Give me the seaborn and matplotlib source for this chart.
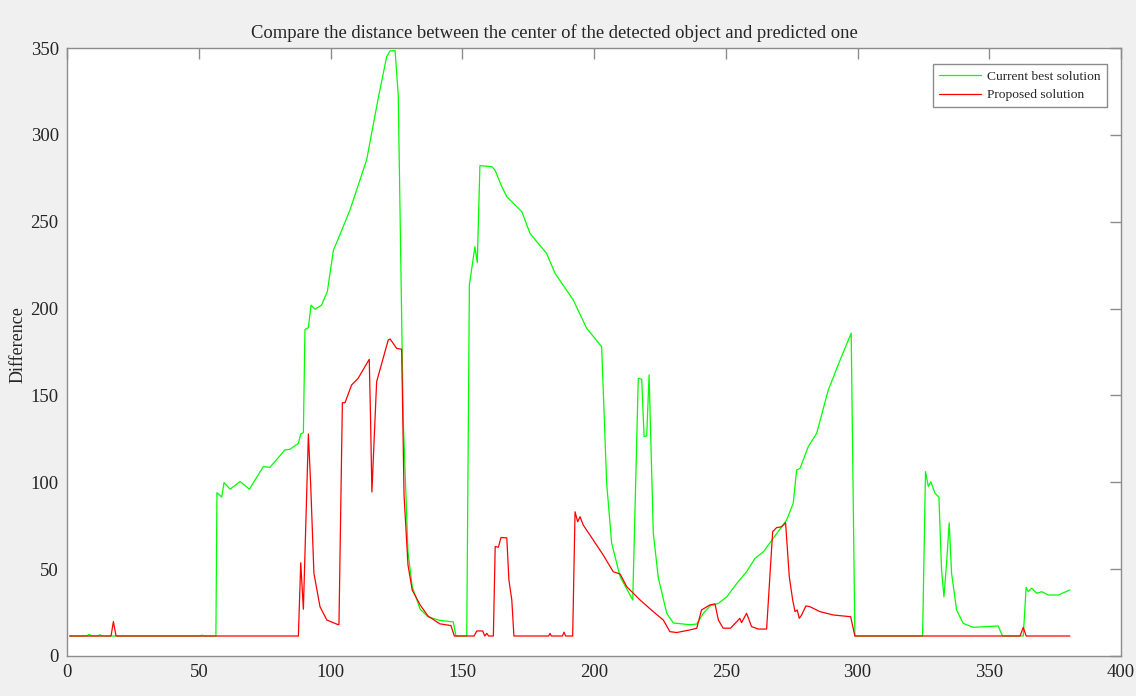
import pandas as pd
import matplotlib
matplotlib.use("Agg")
import matplotlib.pyplot as plt
import seaborn as sns

# values (frame index vs. distance)
green_x = [1, 7.5, 8.4, 9.3, 11.7, 12.5, 13.3, 50.5, 51.3, 52, 56.5, 56.9, 58.7, 59.6, 61.9,
           65.7, 69.2, 74.5, 77, 82.7, 84.6, 87.8, 88.7, 89.7, 90.3, 91.6, 92.6, 94.1, 96.6,
           98.8, 101.1, 103, 107.4, 113.7, 118.1, 121.3, 122.6, 124.5, 125.7, 127.6, 129.4,
           131, 134, 137, 141.5, 146.6, 147.6, 151.7, 152.7, 154.8, 155.7, 156.7, 161.2,
           162.4, 165, 166.9, 172.6, 175.7, 178.3, 182, 185.2, 192.1, 197.2, 202.9, 204.8,
           206.7, 209.9, 214.7, 216.8, 218.1, 219, 220, 220.9, 222.5, 224.4, 227.6, 230.1,
           236.4, 239, 241.5, 244, 247.2, 250.4, 254.2, 257.9, 261.1, 264.3, 268, 273.1,
           275.6, 276.9, 278.2, 281.3, 284.5, 288.9, 293.4, 297.6, 299, 324.7, 325.8, 326.9,
           327.8, 329.4, 330.9, 331.9, 332.8, 333.8, 334.8, 335.7, 337.6, 340.1, 343.9,
           353.4, 355, 362.9, 364, 364.8, 366.1, 368, 369.9, 372.4, 376.2, 380.6]
green_y = [11.5, 11.5, 12.5, 11.5, 11.5, 12.3, 11.5, 11.5, 12, 11.5, 11.5, 94, 91.5, 99.8, 96,
           100.4, 96, 109, 108.6, 118.6, 119, 122.4, 127.8, 128.6, 188, 189, 202, 199.6, 202,
           209.8, 233.7, 240.4, 256.8, 285.6, 321, 345, 348.3, 348.5, 323, 135.9, 60,
           40, 27, 22.5, 20.5, 19.6, 11.5, 11.5, 213.6, 235.6, 226.4, 282.3, 281.7,
           279.8, 270.2, 264.4, 255.8, 243.3, 238.5, 231.8, 220.3, 205, 188.7, 178, 99.4,
           64.9, 45.7, 32.2, 159.9, 159.3, 126.3, 126.7, 161.8, 70.6, 45, 24.6, 19,
           18, 18.4, 24.6, 28.8, 30.3, 34.1, 41.8, 48.5, 56.2, 60, 67.7, 78.3,
           87.9, 107.1, 108, 120.5, 128.2, 153.1, 170.4, 185.8, 11.5, 11.5, 106.1, 97.5,
           100.4, 93.7, 91.4, 49.5, 34.1, 53.4, 76.7, 47.6, 26.5, 18.8, 16.5,
           17.3, 11.5, 11.5, 39.5, 37, 39, 36.1, 37, 35.1, 35.1, 38]

red_x = [1, 16.7, 17.6, 18.6, 87.8, 88.7, 89.7, 91.6, 92.5, 93.7, 96, 98.6, 102.6, 103.2,
         104.5, 105.5, 108, 110.5, 114.7, 115.2, 115.7, 117.5, 121.9, 122.6, 125.1, 127,
         127.9, 129.4, 131, 134, 137, 141.5, 145.7, 147, 154.5, 155.5, 157.8, 158.5, 159.3,
         160, 161.8, 162.5, 163.7, 164.7, 166.9, 167.7, 168.8, 169.6, 182.8, 183.3, 183.8,
         188, 188.6, 189.2, 191.9, 192.8, 193.8, 194.7, 195.9, 199.7, 203.5, 207.3, 209.9,
         212.4, 217.5, 222.5, 226.3, 228.8, 231.4, 236.4, 239, 240.8, 244, 245.9, 247.2,
         249, 251.8, 254.2, 255.3, 256, 257.9, 259.8, 262.4, 265.5, 267.8, 269.3, 271.2,
         272.7, 274.1, 275.4, 276.3, 277.1, 277.9, 278.8, 280.4, 281.9, 285.8, 290.8, 297.4,
         299, 361.7, 362.9, 364, 380.6]
red_y = [11.5, 11.5, 19.8, 11.5, 11.5, 53.7, 26.9, 127.8, 97.5, 47.6, 28.4, 20.7, 18.2, 18,
         145.8, 145.8, 156, 159.9, 170.8, 135.9, 94.4, 157.9, 181.9, 182.5, 177.1, 176.6,
         92.7, 52.4, 38, 29.4, 23, 18.5, 17.5, 11.5, 11.5, 14.4, 14.4, 11.5, 13,
         11.5, 11.5, 63, 62.6, 68.2, 68, 43.8, 32.2, 11.5, 11.5, 13, 11.5,
         11.5, 13.7, 11.5, 11.5, 83, 77.3, 80.2, 75.4, 66.8, 58.1, 48.5, 47.2,
         39.9, 32.2, 25.5, 20.7, 14, 13.5, 15, 16, 26.5, 29.4, 30, 20.7,
         16, 16, 19.8, 21.7, 19.2, 24.6, 16.9, 15.5, 15.5, 71.6, 73.9, 74.4,
         76.7, 45.7, 32.2, 25.5, 26.5, 21.7, 23.6, 28.8, 28.4, 25.5, 23.6, 22.6,
         11.5, 11.5, 16.5, 11.5, 11.5]

x_ticks = [0, 50, 100, 150, 200, 250, 300, 350, 400]
y_ticks = [0, 50, 100, 150, 200, 250, 300, 350]

green_df = pd.DataFrame({"frame": green_x, "diff": green_y})
red_df = pd.DataFrame({"frame": red_x, "diff": red_y})

sns.set_style("white")
plt.rcParams["font.family"] = ["Liberation Serif", "DejaVu Serif"]

fig, ax = plt.subplots(figsize=(11.36, 6.96), dpi=100)
fig.patch.set_facecolor("#f0f0f0")
fig.subplots_adjust(left=0.059, right=0.9868, bottom=0.0575, top=0.931)

sns.lineplot(data=green_df, x="frame", y="diff", sort=False, estimator=None,
             color="#00ff00", linewidth=0.9, label="Current best solution", ax=ax)
sns.lineplot(data=red_df, x="frame", y="diff", sort=False, estimator=None,
             color="#ff0000", linewidth=0.9, label="Proposed solution", ax=ax)

ax.set_xlim(0, 400)
ax.set_ylim(0, 350)
ax.set_xticks(x_ticks)
ax.set_yticks(y_ticks)
ax.set_xlabel("")
ax.set_ylabel("Difference", fontsize=13)
ax.yaxis.set_label_coords(-0.038, 0.512)
# title sits a little left of the axes centre in the reference
ax.set_title("Compare the distance between the center of the detected object and predicted one",
             fontsize=13.4, x=0.4625, pad=7)

for s in ax.spines.values():
    s.set_visible(True)
    s.set_color("#8c8c8c")
    s.set_linewidth(1.0)
ax.tick_params(direction="in", length=8, width=1, color="#8c8c8c", labelsize=13.5,
               top=True, right=True, labeltop=False, labelright=False, pad=6)

leg = ax.legend(loc="upper right", bbox_to_anchor=(0.9867, 0.9737), borderaxespad=0,
                fontsize=9.7, frameon=True, fancybox=False, framealpha=1,
                edgecolor="#8c8c8c", handlelength=3.1, handletextpad=0.5,
                borderpad=0.45, labelspacing=0.48)
leg.get_frame().set_linewidth(1.0)

fig.savefig("out.png", dpi=100, facecolor=fig.get_facecolor())
